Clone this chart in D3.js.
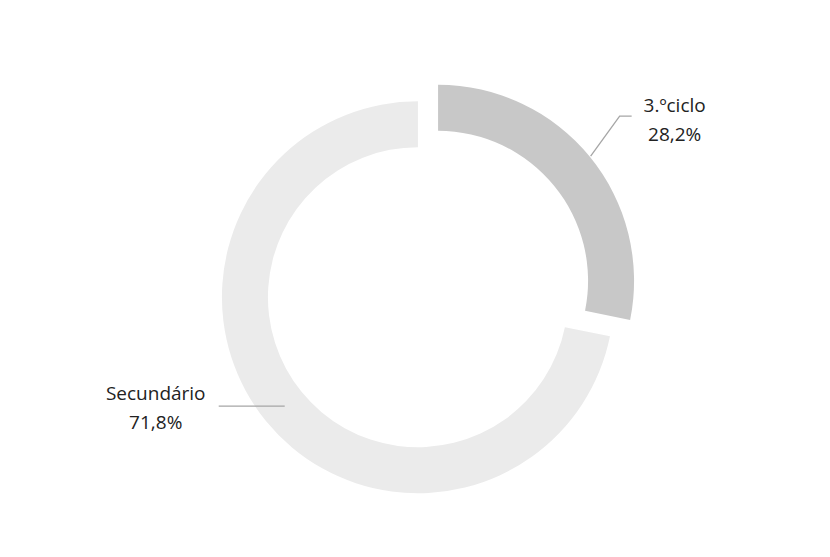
<!DOCTYPE html>
<html>
<head>
<meta charset="utf-8">
<script src="https://cdn.jsdelivr.net/npm/d3@7"></script>
<style>
  html, body { margin: 0; padding: 0; background: #ffffff; }
  svg { display: block; }
  text { font-family: "Open Sans", "Liberation Sans", sans-serif; fill: #222222; }
</style>
</head>
<body>
<svg id="chart" width="830" height="557"></svg>
<script>
// ---- data ----
const categories = ["3.ºciclo", "Secundário"];
const values = [28.2, 71.8];
const valueLabels = ["28,2%", "71,8%"];
const sliceColors = ["#c8c8c8", "#ebebeb"];

// ---- layout ----
const cx = 428, cy = 289;
const outerR = 196, innerR = 150;
const explode = 13;

const svg = d3.select("#chart");
const g = svg.append("g").attr("transform", `translate(${cx},${cy})`);

const pie = d3.pie().sort(null).value(d => d).startAngle(0).endAngle(2 * Math.PI);
const arcs = pie(values);
const arc = d3.arc().innerRadius(innerR).outerRadius(outerR);

function dir(a) { return [Math.sin(a), -Math.cos(a)]; }

const slices = g.selectAll("g.slice").data(arcs).enter().append("g")
  .attr("class", "slice")
  .attr("transform", d => {
    const m = (d.startAngle + d.endAngle) / 2;
    const [ux, uy] = dir(m);
    return `translate(${ux * explode},${uy * explode})`;
  });

slices.append("path")
  .attr("d", arc)
  .attr("fill", (d, i) => sliceColors[i]);

// leader lines and labels (label layout per slice)
const labelLayout = [
  { r0: 197, elbow: [29, -40], len: 12, tx: 43, b1: -4, b2: 25 },
  { r0: 172, elbow: [0, 0], len: -66, tx: -63, b1: -6, b2: 23 }
];

slices.each(function(d, i) {
  const sel = d3.select(this);
  const m = (d.startAngle + d.endAngle) / 2;
  const [ux, uy] = dir(m);
  const L = labelLayout[i];
  const p0 = [ux * L.r0, uy * L.r0];
  const p1 = [p0[0] + L.elbow[0], p0[1] + L.elbow[1]];
  const p2 = [p1[0] + L.len, p1[1]];
  sel.append("polyline")
    .attr("points", [p0, p1, p2].map(p => p.join(",")).join(" "))
    .attr("fill", "none")
    .attr("stroke", "#a6a6a6")
    .attr("stroke-width", 1.3);
  const tx = p2[0] + L.tx;
  sel.append("text")
    .attr("x", tx).attr("y", p2[1] + L.b1)
    .attr("text-anchor", "middle")
    .style("font-size", "19px")
    .text(categories[i]);
  sel.append("text")
    .attr("x", tx).attr("y", p2[1] + L.b2)
    .attr("text-anchor", "middle")
    .style("font-size", "19px")
    .text(valueLabels[i]);
});
</script>
</body>
</html>
